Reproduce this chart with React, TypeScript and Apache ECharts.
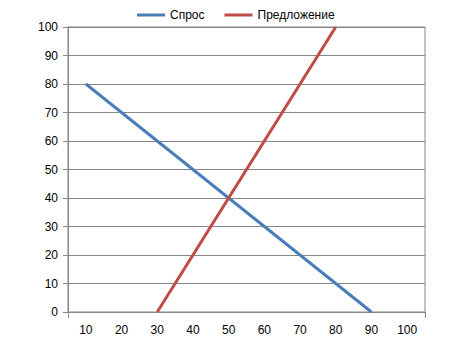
import React, { useEffect, useRef } from "react";
import * as echarts from "echarts";

const categories = ["10", "20", "30", "40", "50", "60", "70", "80", "90", "100"];
const demand = [80, 70, 60, 50, 40, 30, 20, 10, 0, null];
const supply = [null, null, 0, 20, 40, 60, 80, 100, null, null];
const yTicks = { min: 0, max: 100, interval: 10 };

export default function App() {
  const ref = useRef<HTMLDivElement>(null);
  useEffect(() => {
    const chart = echarts.init(ref.current!, null, { renderer: "svg" });
    const font = "Liberation Sans, Arial, sans-serif";
    chart.setOption({
      animation: false,
      textStyle: { fontFamily: font },
      legend: {
        top: -4,
        left: 124,
        icon: "rect",
        itemWidth: 28,
        itemHeight: 3,
        itemGap: 20,
        textStyle: { fontSize: 12, color: "#000", fontFamily: font },
        data: ["Спрос", "Предложение"],
      },
      grid: {
        left: 60,
        top: 19,
        width: 357,
        height: 285,
        show: true,
        borderColor: "#868686",
        borderWidth: 1,
        containLabel: false,
      },
      xAxis: {
        type: "category",
        data: categories,
        boundaryGap: true,
        axisLine: { lineStyle: { color: "#868686", width: 1 } },
        axisTick: {
          show: true,
          length: 6,
          interval: (i: number) => i === 0,
          lineStyle: { color: "#868686" },
        },
        axisLabel: { color: "#000", fontSize: 12, margin: 12, fontFamily: font },
        splitLine: { show: false },
      },
      yAxis: {
        type: "value",
        min: yTicks.min,
        max: yTicks.max,
        interval: yTicks.interval,
        axisLine: { show: true, lineStyle: { color: "#868686", width: 1 } },
        axisTick: { show: true, length: 5, lineStyle: { color: "#868686" } },
        axisLabel: { color: "#000", fontSize: 12, margin: 10, fontFamily: font },
        splitLine: { show: true, lineStyle: { color: "#868686", width: 1 } },
      },
      series: [
        {
          name: "Спрос",
          type: "line",
          data: demand,
          showSymbol: false,
          symbol: "none",
          lineStyle: { color: "#4A7EBB", width: 3 },
          itemStyle: { color: "#4A7EBB" },
        },
        {
          name: "Предложение",
          type: "line",
          data: supply,
          showSymbol: false,
          symbol: "none",
          lineStyle: { color: "#BE4B48", width: 3 },
          itemStyle: { color: "#BE4B48" },
        },
      ],
    });
    return () => chart.dispose();
  }, []);
  return <div ref={ref} style={{ width: 434, height: 343 }} />;
}
